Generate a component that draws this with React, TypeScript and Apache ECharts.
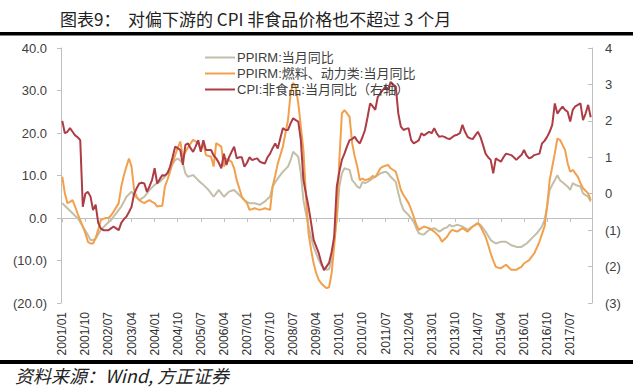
import React, { useEffect, useRef } from "react";
import * as echarts from "echarts";

// Monthly categories 2001/01 .. 2018/03
const startYear = 2001;
const monthCount = 207;
const categories: string[] = [];
for (let i = 0; i < monthCount; i++) {
  const y = startYear + Math.floor(i / 12);
  const m = (i % 12) + 1;
  categories.push(`${y}/${m < 10 ? "0" + m : m}`);
}

const seriesNames = [
  "PPIRM:当月同比",
  "PPIRM:燃料、动力类:当月同比",
  "CPI:非食品:当月同比（右轴）",
];

// PPIRM total (left axis)
const ppirm: number[] = [
  3.5, 2.9, 2.3, 1.7, 1.1, 0.5, 0.0, -1.0, -2.0, -3.0, -4.0, -5.2,
  -5.2, -4.8, -3.8, -2.8, -2.2, -1.6, -1.0, -0.5, 0.3, 1.1, 1.9, 2.7,
  3.8, 5.0, 5.6, 6.2, 5.4, 4.8, 4.2, 4.6, 5.0, 5.8, 6.6, 7.2,
  7.8, 8.2, 8.5, 9.1, 9.7, 10.7, 11.7, 12.7, 13.6, 14.0, 13.5, 12.9,
  10.5, 9.7, 9.9, 10.1, 9.5, 8.9, 8.3, 7.8, 7.2, 6.6, 5.8, 5.0,
  5.8, 6.6, 5.8, 5.0, 5.6, 6.2, 6.4, 6.6, 6.0, 5.4, 4.8, 4.2,
  3.8, 3.5, 3.5, 3.5, 3.3, 3.1, 3.5, 3.9, 4.5, 5.0, 7.4, 8.4,
  9.3, 10.1, 10.9, 11.5, 12.1, 13.6, 15.6, 15.0, 14.4, 10.5, 4.2, 1.0,
  -2.0, -4.5, -6.8, -8.4, -9.9, -11.1, -11.7, -12.2, -12.0, -9.9, -5.0, -0.5,
  7.4, 10.5, 11.7, 11.5, 11.3, 8.9, 8.2, 7.4, 7.0, 8.5, 8.2, 8.5,
  8.9, 9.3, 9.7, 10.1, 10.5, 10.7, 10.9, 10.5, 9.7, 9.1, 8.5, 5.8,
  3.5, 1.9, 1.3, 0.7, -0.1, -0.9, -2.4, -3.6, -3.8, -3.9, -3.3, -2.8,
  -2.6, -2.4, -2.8, -3.2, -2.8, -2.4, -2.2, -1.6, -2.0, -1.8, -1.6, -1.8,
  -2.0, -2.4, -2.8, -2.4, -2.0, -1.6, -1.2, -1.6, -2.4, -3.2, -4.2, -5.2,
  -5.6, -6.0, -5.8, -5.6, -5.6, -5.6, -6.0, -6.4, -6.6, -6.8, -6.8, -6.8,
  -6.4, -6.0, -5.4, -4.8, -4.2, -3.6, -2.8, -2.0, -0.5, 2.7, 6.6, 7.8,
  8.9, 10.1, 8.9, 8.4, 7.9, 7.4, 6.6, 8.2, 7.8, 7.6, 7.4, 5.8,
  5.4, 5.0, 3.9,
];

// PPIRM fuel & power (left axis)
const ppirmFuel: number[] = [
  9.7, 5.8, 3.5, 3.8, 4.2, 2.7, 1.0, -0.5, -2.0, -3.6, -5.6, -6.0,
  -6.0, -4.8, -2.8, -0.5, -0.2, 0.0, 0.0, 0.6, 1.5, 2.5, 3.5, 7.4,
  10.0, 12.1, 14.0, 12.1, 6.6, 5.0, 4.2, 3.8, 3.5, 3.9, 4.2, 3.8,
  3.5, 2.7, 2.8, 2.9, 7.4, 9.0, 10.9, 13.0, 14.8, 16.5, 18.0, 14.4,
  15.5, 16.6, 17.5, 18.4, 18.0, 17.6, 16.0, 17.6, 14.8, 14.6, 14.4, 12.1,
  17.6, 17.2, 16.8, 12.1, 14.0, 13.6, 13.2, 11.7, 8.9, 7.0, 5.0, 4.2,
  3.5, 1.9, 2.1, 2.3, 2.1, 1.9, 2.1, 2.3, 2.1, 1.9, 7.4, 10.0,
  12.8, 14.8, 16.8, 20.0, 23.1, 29.3, 31.8, 31.0, 27.0, 21.5, 16.0, 5.0,
  -3.6, -7.5, -10.7, -13.0, -14.6, -15.4, -16.0, -16.5, -16.3, -13.0, -6.5, 0.3,
  13.6, 24.6, 25.4, 24.6, 23.8, 17.6, 14.5, 12.1, 8.9, 9.3, 8.9, 9.1,
  9.3, 9.9, 9.6, 10.6, 11.7, 12.1, 12.3, 12.5, 11.7, 11.3, 10.9, 8.9,
  6.6, 5.4, 4.5, 3.5, 2.0, 0.3, -1.6, -2.8, -2.4, -2.0, -2.2, -2.4,
  -2.8, -3.2, -3.8, -4.4, -5.6, -5.0, -4.4, -3.4, -2.8, -3.0, -3.2, -2.8,
  -2.4, -2.8, -3.2, -2.6, -2.0, -1.6, -1.2, -2.0, -3.2, -4.4, -6.3, -8.3,
  -10.0, -11.5, -11.7, -11.8, -11.4, -11.0, -11.6, -12.2, -12.2, -12.2, -11.8, -11.5,
  -10.7, -10.3, -9.9, -9.1, -8.3, -7.0, -5.6, -3.8, -2.0, 2.7, 8.9, 12.0,
  15.2, 18.7, 18.4, 17.2, 16.0, 12.9, 10.9, 11.3, 10.5, 9.7, 8.2, 7.0,
  6.4, 5.8, 4.2,
];

// CPI non-food (right axis)
const cpiNonFood: number[] = [
  2.0, 1.66, 1.7, 1.8, 1.7, 1.6, 1.55, 1.47, -0.36, 0.0, 0.05, -0.08,
  -0.45, -0.3, -0.8, -0.95, -1.0, -1.0, -1.0, -0.95, -0.9, -0.95, -1.0, -0.8,
  -0.7, -0.63, -0.5, -0.36, 0.0, 0.15, 0.28, 0.3, 0.28, 0.05, 0.2, 0.38,
  0.7, 0.28, 0.4, 0.51, 0.5, 0.56, 0.74, 1.0, 1.29, 1.25, 1.2, 0.79,
  1.34, 1.38, 1.25, 1.15, 1.3, 1.47, 1.15, 1.47, 1.2, 1.2, 1.2, 1.05,
  0.97, 0.85, 0.7, 1.1, 0.79, 1.0, 1.15, 1.29, 0.97, 1.0, 1.0, 0.74,
  0.85, 1.0, 0.92, 0.95, 0.97, 0.88, 0.85, 0.83, 1.0, 1.1, 1.25, 1.38,
  1.24, 1.52, 1.8, 1.75, 1.75, 1.93, 2.07, 2.02, 1.98, 1.47, 0.38, 0.0,
  -0.36, -0.8, -1.27, -1.45, -1.64, -1.9, -2.1, -2.0, -1.9, -1.6, -1.18, 0.19,
  0.6, 0.93, 1.1, 1.3, 1.47, 1.5, 1.56, 1.45, 1.38, 1.55, 1.75, 2.1,
  2.48, 2.4, 2.3, 2.66, 2.76, 2.85, 2.94, 2.85, 3.07, 3.0, 2.94, 2.2,
  1.84, 1.75, 1.78, 1.8, 1.47, 1.38, 1.42, 1.47, 1.66, 1.6, 1.65, 1.7,
  1.66, 1.8, 1.65, 1.56, 1.58, 1.56, 1.52, 1.5, 1.55, 1.6, 1.62, 1.66,
  1.89, 1.7, 1.56, 1.52, 1.5, 1.6, 1.7, 1.56, 1.34, 1.1, 1.0, 0.93,
  0.56, 0.97, 0.92, 0.88, 1.0, 1.1, 1.08, 1.06, 1.0, 0.93, 1.0, 1.06,
  1.2, 1.05, 0.97, 1.0, 1.06, 1.08, 1.1, 1.38, 1.45, 1.56, 1.7, 1.89,
  2.48, 2.2, 2.3, 2.39, 2.3, 2.25, 1.98, 2.3, 2.4, 2.44, 2.48, 2.02,
  2.2, 2.44, 2.1,
];

const titleText = "图表9：  对偏下游的 CPI 非食品价格也不超过 3 个月";
const sourceText = "资料来源：Wind, 方正证券";

const fmtLeft = (v: number) => (v < 0 ? `(${Math.abs(v).toFixed(1)})` : v.toFixed(1));
const fmtRight = (v: number) => (v < 0 ? `(${Math.abs(v)})` : `${v}`);

export default function App() {
  const ref = useRef<HTMLDivElement>(null);
  useEffect(() => {
    if (!ref.current) return;
    const chart = echarts.init(ref.current, undefined, { renderer: "svg" });
    const axisGray = "#bfbfbf";
    const labelColor = "#404040";
    chart.setOption({
      animation: false,
      backgroundColor: "#ffffff",
      textStyle: { fontFamily: "'Liberation Sans', 'Noto Sans CJK SC', sans-serif" },
      grid: {
        left: 61,
        right: 48,
        top: 48,
        bottom: 88,
        containLabel: false,
        outerBoundsMode: "none",
      },
      legend: {
        orient: "vertical",
        left: 200,
        top: 46,
        itemGap: 3,
        itemWidth: 30,
        itemHeight: 2,
        icon: "rect",
        data: seriesNames,
        textStyle: {
          fontSize: 13,
          color: labelColor,
          fontFamily: "'Liberation Sans', 'Noto Sans CJK SC', sans-serif",
          padding: [0, 0, 0, -3],
        },
      },
      xAxis: [
        {
          type: "category",
          data: categories,
          boundaryGap: true,
          position: "bottom",
          axisLine: { show: false, onZero: false },
          axisTick: { show: false },
          axisLabel: {
            interval: 8,
            rotate: 90,
            fontSize: 12,
            color: "#303030",
            margin: 9,
          },
          splitLine: { show: false },
        },
        {
          type: "category",
          data: categories,
          boundaryGap: true,
          position: "bottom",
          axisLine: {
            show: true,
            onZero: true,
            onZeroAxisIndex: 0,
            lineStyle: { color: axisGray, width: 1 },
          },
          axisTick: {
            show: true,
            interval: 8,
            alignWithLabel: true,
            length: 4,
            lineStyle: { color: axisGray },
          },
          axisLabel: { show: false, interval: 8 },
          splitLine: { show: false },
        },
      ],
      yAxis: [
        {
          type: "value",
          position: "left",
          min: -20,
          max: 40,
          interval: 10,
          axisLine: { show: true, lineStyle: { color: axisGray } },
          axisTick: { show: true, length: 4, lineStyle: { color: axisGray } },
          axisLabel: { formatter: fmtLeft, fontSize: 13, color: labelColor, margin: 14 },
          splitLine: { show: false },
        },
        {
          type: "value",
          position: "right",
          min: -3,
          max: 4,
          interval: 1,
          axisLine: { show: true, lineStyle: { color: axisGray } },
          axisTick: { show: true, length: 4, inside: true, lineStyle: { color: axisGray } },
          axisLabel: { formatter: fmtRight, fontSize: 13, color: labelColor, margin: 13 },
          splitLine: { show: false },
        },
      ],
      series: [
        {
          name: seriesNames[0],
          type: "line",
          data: ppirm,
          xAxisIndex: 0,
          yAxisIndex: 0,
          showSymbol: false,
          symbol: "none",
          lineStyle: { color: "#c3bea7", width: 2 },
          itemStyle: { color: "#c3bea7" },
        },
        {
          name: seriesNames[1],
          type: "line",
          data: ppirmFuel,
          xAxisIndex: 0,
          yAxisIndex: 0,
          showSymbol: false,
          symbol: "none",
          lineStyle: { color: "#f2a04c", width: 2 },
          itemStyle: { color: "#f2a04c" },
        },
        {
          name: seriesNames[2],
          type: "line",
          data: cpiNonFood,
          xAxisIndex: 0,
          yAxisIndex: 1,
          showSymbol: false,
          symbol: "none",
          lineStyle: { color: "#ad3c45", width: 2 },
          itemStyle: { color: "#ad3c45" },
        },
      ],
      graphic: [
        {
          type: "text",
          left: 60,
          top: 10,
          style: {
            text: titleText,
            fontSize: 17,
            fill: "#222222",
            fontFamily: "'Noto Sans CJK SC', sans-serif",
          },
        },
        {
          type: "rect",
          shape: { x: 0, y: 32, width: 633, height: 3.5 },
          style: { fill: "#000000" },
        },
        {
          type: "rect",
          shape: { x: 0, y: 360, width: 633, height: 4 },
          style: { fill: "#000000" },
        },
        {
          type: "text",
          left: 15,
          top: 366,
          style: {
            text: sourceText,
            fontSize: 18,
            fontStyle: "italic",
            fill: "#222222",
            fontFamily: "'Noto Sans CJK SC', sans-serif",
          },
        },
      ],
    });
    return () => chart.dispose();
  }, []);
  return (
    <div
      ref={ref}
      style={{ position: "absolute", left: 0, top: 0, width: 640, height: 391, background: "#fff" }}
    />
  );
}
